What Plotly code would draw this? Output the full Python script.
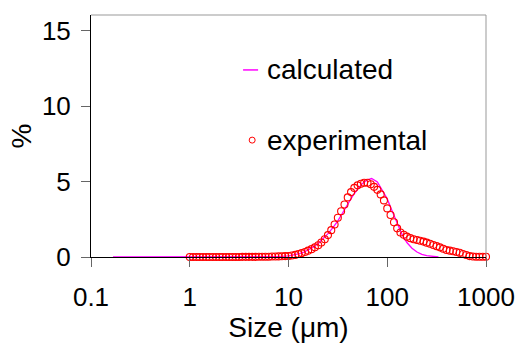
import plotly.graph_objects as go

# Experimental data: size classes (um) and volume %
exp_size = [1.00, 1.08, 1.17, 1.26, 1.36, 1.47, 1.58, 1.71, 1.85, 2.00,
            2.15, 2.33, 2.51, 2.71, 2.93, 3.16, 3.41, 3.69, 3.98, 4.30,
            4.64, 5.01, 5.41, 5.84, 6.31, 6.81, 7.36, 7.94, 8.58, 9.26,
            10.0, 10.8, 11.7, 12.6, 13.6, 14.7, 15.8, 17.1, 18.5, 20.0,
            21.5, 23.3, 25.1, 27.1, 29.3, 31.6, 34.1, 36.9, 39.8, 43.0,
            46.4, 50.1, 54.1, 58.4, 63.1, 68.1, 73.6, 79.4, 85.8, 92.6,
            100, 108, 117, 126, 136, 147, 158, 171, 185, 200,
            215, 233, 251, 271, 293, 316, 341, 369, 398, 430,
            464, 501, 541, 584, 631, 681, 736, 794, 858, 926, 1000]
exp_pct = [0.00, 0.00, 0.00, 0.00, 0.00, 0.00, 0.00, 0.00, 0.00, 0.00,
           0.00, 0.00, 0.00, 0.00, 0.00, 0.00, 0.01, 0.01, 0.01, 0.01,
           0.01, 0.02, 0.02, 0.02, 0.02, 0.03, 0.03, 0.04, 0.05, 0.06,
           0.07, 0.10, 0.14, 0.20, 0.26, 0.33, 0.42, 0.52, 0.64, 0.78,
           0.96, 1.18, 1.45, 1.78, 2.15, 2.60, 3.03, 3.48, 3.95, 4.30,
           4.58, 4.75, 4.86, 4.92, 4.92, 4.82, 4.65, 4.45, 4.15, 3.75,
           3.22, 2.78, 2.30, 1.90, 1.62, 1.47, 1.35, 1.25, 1.18, 1.13,
           1.08, 1.02, 0.95, 0.88, 0.80, 0.72, 0.64, 0.55, 0.46, 0.42,
           0.38, 0.33, 0.28, 0.20, 0.13, 0.06, 0.03, 0.02, 0.02, 0.02, 0.02]

# Calculated distribution
calc_size = [0.167, 1.0, 3.16, 7.94, 10.0, 11.2, 12.6, 14.1, 15.8, 17.8,
             20.0, 22.4, 25.1, 28.2, 31.6, 35.5, 39.8, 44.7, 50.1, 56.2,
             63.1, 69.5, 79.4, 89.1, 100, 112, 126, 141, 158, 178,
             200, 224, 251, 282, 316, 330]
calc_pct = [0.0, 0.0, 0.0, 0.03, 0.08, 0.125, 0.20, 0.30, 0.45, 0.65,
            0.90, 1.20, 1.55, 1.95, 2.40, 2.95, 3.50, 4.05, 4.50, 4.88,
            5.12, 5.20, 4.98, 4.46, 3.85, 3.05, 2.20, 1.50, 0.96, 0.58,
            0.33, 0.17, 0.09, 0.04, 0.02, 0.0]

series_names = ["calculated", "experimental"]
x_ticks = [0.1, 1, 10, 100, 1000]
x_ticklabels = ["0.1", "1", "10", "100", "1000"]
y_ticks = [0, 5, 10, 15]

FONT = "Liberation Sans, Arial, sans-serif"
CALC_COLOR = "#FF00FF"
EXP_COLOR = "#FF0000"

fig = go.Figure()
fig.add_trace(go.Scatter(
    x=calc_size, y=calc_pct, mode="lines", name=series_names[0],
    line=dict(color=CALC_COLOR, width=1.3),
    cliponaxis=False, showlegend=False,
))
fig.add_trace(go.Scatter(
    x=exp_size, y=exp_pct, mode="markers", name=series_names[1],
    marker=dict(symbol="circle-open", size=7, color=EXP_COLOR,
                line=dict(width=1.1, color=EXP_COLOR)),
    cliponaxis=False, showlegend=False,
))

# In-plot key (positions in paper fractions of the plot area)
key_text_x = 0.441
key_y = [0.773, 0.483]
annotations = [
    dict(text=series_names[i], xref="paper", yref="paper", x=key_text_x, y=key_y[i],
         xanchor="left", yanchor="middle", showarrow=False,
         font=dict(size=28, family=FONT, color="black"))
    for i in range(2)
]

shapes = [
    dict(type="line", xref="paper", yref="paper", x0=0, x1=1, y0=1, y1=1,
         line=dict(color="#999999", width=1)),
    dict(type="line", xref="paper", yref="paper", x0=1, x1=1, y0=0, y1=1,
         line=dict(color="#999999", width=1)),
    dict(type="line", xref="paper", yref="paper", x0=0.385, x1=0.423,
         y0=key_y[0], y1=key_y[0], line=dict(color=CALC_COLOR, width=1.5)),
    dict(type="circle", xref="paper", yref="paper",
         xsizemode="pixel", ysizemode="pixel", xanchor=0.408, yanchor=key_y[1],
         x0=-3, x1=3, y0=-3, y1=3, line=dict(color=EXP_COLOR, width=1)),
]

fig.update_layout(
    width=522, height=345,
    margin=dict(l=91, r=36, t=15, b=88),
    paper_bgcolor="white", plot_bgcolor="white",
    font=dict(family=FONT, color="black"),
    showlegend=False,
    annotations=annotations,
    shapes=shapes,
    xaxis=dict(
        type="log", range=[-1, 3], automargin=False,
        tickvals=x_ticks, ticktext=x_ticklabels,
        ticks="outside", ticklen=9, tickcolor="#666", tickwidth=1,
        ticklabelstandoff=8,
        showline=True, linecolor="black", linewidth=1,
        showgrid=False, zeroline=False,
        tickfont=dict(size=26, family=FONT, color="black"),
        title=dict(text="Size (\u03bcm)", font=dict(size=28, family=FONT, color="black"), standoff=3),
    ),
    yaxis=dict(
        range=[0, 16.04], automargin=False,
        tickvals=y_ticks,
        ticks="outside", ticklen=9, tickcolor="#666", tickwidth=1,
        ticklabelstandoff=5,
        showline=True, linecolor="black", linewidth=1,
        showgrid=False, zeroline=False,
        tickfont=dict(size=26, family=FONT, color="black"),
        title=dict(text="%", font=dict(size=28, family=FONT, color="black"), standoff=2),
    ),
)

fig.write_html("out.html")
